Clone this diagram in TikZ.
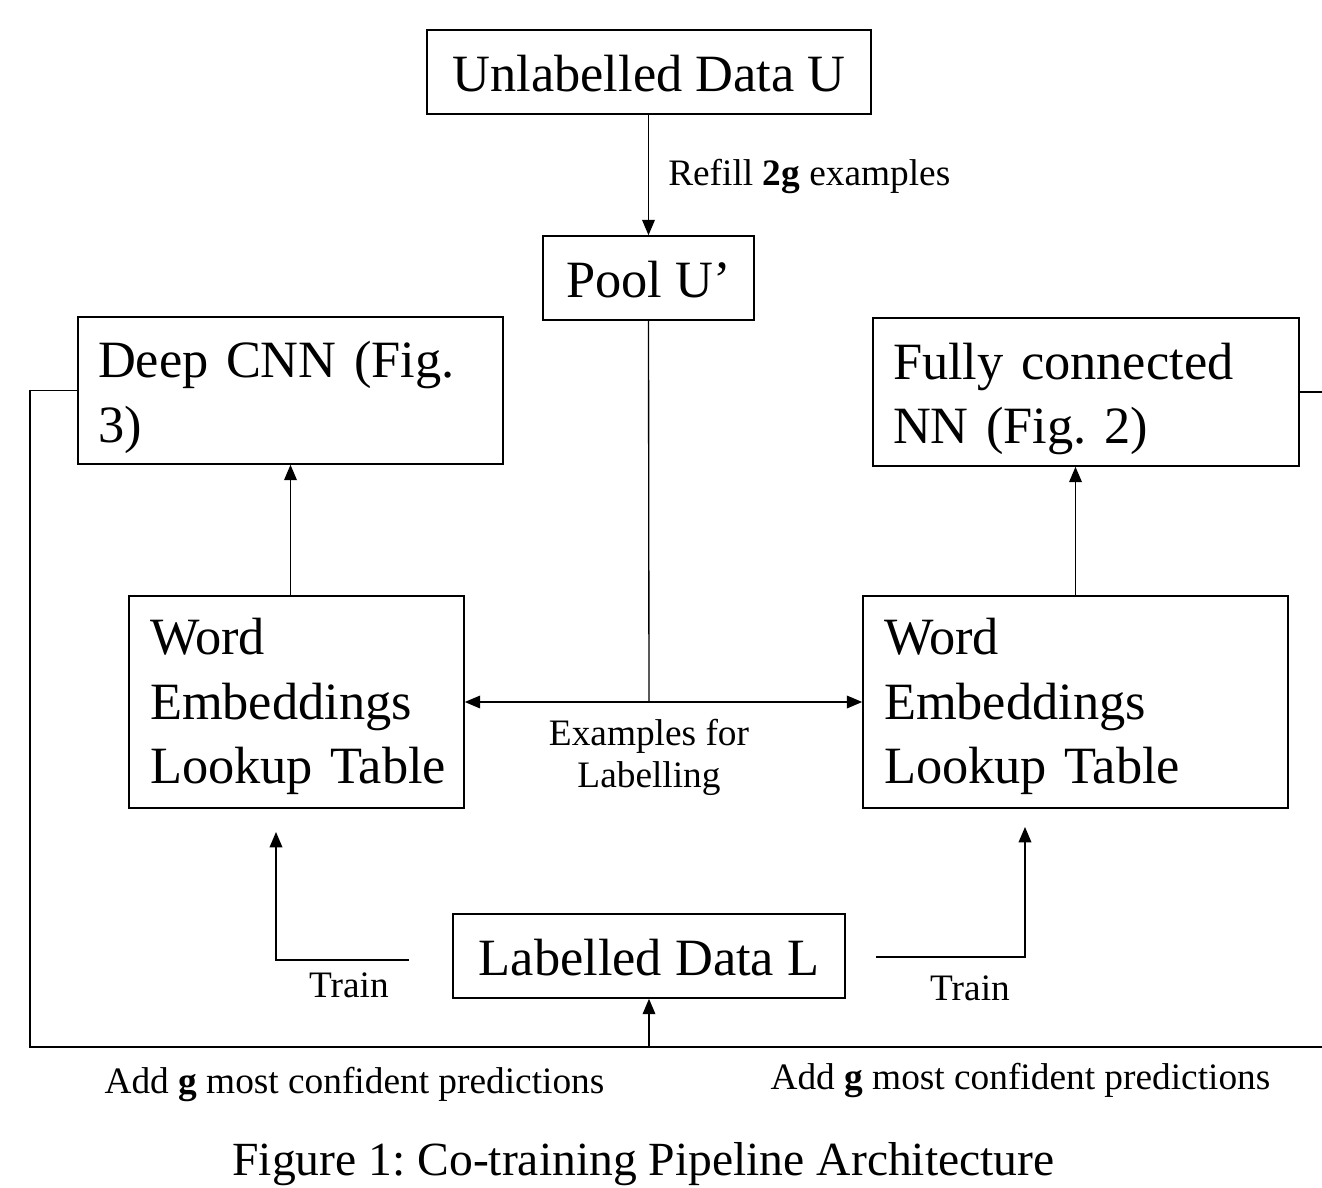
\documentclass[tikz,border=0pt]{standalone}
\usepackage{fontspec}
\setmainfont{Liberation Serif}
\usetikzlibrary{arrows.meta}
\frenchspacing
\hyphenpenalty=10000
\exhyphenpenalty=10000
\newcommand{\lift}[1]{\rule{0pt}{#1}}
\begin{document}
\begin{tikzpicture}[x=0.75pt,y=-0.75pt,
  box/.style={draw, line width=1.2pt, inner sep=0pt, font=\fontsize{39.3pt}{48.4pt}\selectfont},
  lbox/.style={box, align=left, inner xsep=15pt},
  conn/.style={line width=1pt},
  arr/.style={conn, -{Triangle[length=11.5pt,width=9.5pt]}},
  lab/.style={font=\fontsize{28pt}{31.5pt}\selectfont, inner sep=0pt},
]
\useasboundingbox (0,0) rectangle (1322,1188);

% boxes
\node[box, minimum width=333pt, minimum height=63pt] (U) at (649,72) {\lift{30pt}Unlabelled Data U};
\node[box, minimum width=158.25pt, minimum height=63pt] (P) at (648.5,278) {\lift{30pt}Pool U’};
\node[lbox, minimum width=318.75pt, minimum height=110.25pt, text width=288.75pt] (CNN) at (290.5,390.5) {\lift{37.8pt}Deep CNN (Fig.\\3)};
\node[lbox, minimum width=319.5pt, minimum height=111pt, text width=289.5pt] (FC) at (1086,392) {\lift{37.5pt}Fully connected\\NN (Fig. 2)};
\node[lbox, inner xsep=15.75pt, minimum width=251.25pt, minimum height=159pt, text width=219.75pt] (WEL) at (296.5,702) {\lift{34.5pt}Word\\Embeddings\\Lookup~Table};
\node[lbox, inner xsep=15.75pt, minimum width=318.75pt, minimum height=159pt, text width=287.25pt] (WER) at (1075.5,702) {\lift{34.5pt}Word\\Embeddings\\Lookup Table};
\node[box, minimum width=294pt, minimum height=63pt] (L) at (649,956) {\lift{30pt}Labelled Data L};

% top arrow
\draw[arr] (U.south) -- (P.south |- U.south) -- (P.north);
\node[lab, anchor=west] (refill) at (668,176) {Refill \textbf{2g} examples};

% word embeddings to models
\draw[arr] (CNN.south |- WEL.north) -- (CNN.south);
\draw[arr] (WER.north) -- (WER.north |- FC.south);

% pool to lookup tables
\coordinate (j) at (649,702);
\draw[conn] (P.south) -- (j);
\draw[arr] (j) -- (WEL.east);
\draw[arr] (j) -- (WER.west);
\node[lab, align=center] (ex) at (649,757) {Examples for\\Labelling};

% train arrows
\coordinate (tls) at (409,960);
\coordinate (tle) at (276,832);
\draw[arr] (tls) -| (tle);
\node[lab] (trainl) at (349,985) {Train};
\coordinate (trs) at (876,957);
\coordinate (tre) at (1025,827);
\draw[arr] (trs) -| (tre);
\node[lab] (trainr) at (970,988) {Train};

% feedback loop
\coordinate (bl) at (30,1047);
\coordinate (br) at (1322,1047);
\draw[conn] (CNN.west) -| (bl) -- (br);
\draw[conn] (FC.east) -- (FC.east -| br);
\draw[arr] (L.south |- bl) -- (L.south);
\node[lab] (addl) at (354.5,1084) {Add \textbf{g} most confident predictions};
\node[lab] (addr) at (1020.5,1080) {Add \textbf{g} most confident predictions};

% caption
\node[font=\fontsize{35.7pt}{40pt}\selectfont, inner sep=0pt] (cap) at (643.5,1164) {Figure 1: Co-training Pipeline Architecture};
\end{tikzpicture}
\end{document}
